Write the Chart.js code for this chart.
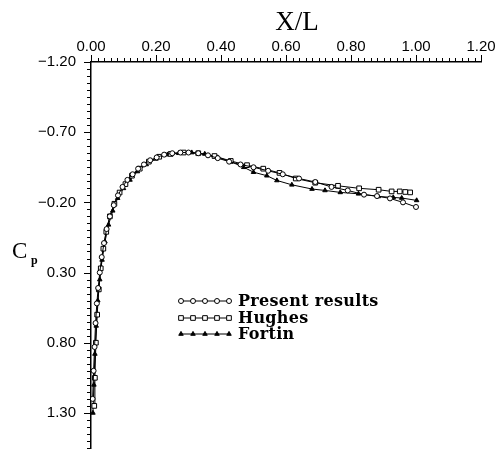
<!DOCTYPE html>
<html>
<head>
<meta charset="utf-8">
<script src="https://cdn.jsdelivr.net/npm/chart.js@4"></script>
<style>
  body { margin: 0; background: #fff; }
  canvas { display: block; }
</style>
</head>
<body>
<canvas id="myChart" width="502" height="456"></canvas>
<script>
// pressure coefficient along the chord
var seriesNames = ["Present results", "Hughes", "Fortin"];

var presentX = [0.005, 0.008, 0.011, 0.014, 0.018, 0.022, 0.027, 0.033, 0.040, 0.048,
    0.058, 0.070, 0.083, 0.097, 0.112, 0.128, 0.145, 0.163, 0.182, 0.202,
    0.225, 0.250, 0.275, 0.300, 0.330, 0.360, 0.390, 0.425, 0.460, 0.500,
    0.545, 0.590, 0.640, 0.690, 0.740, 0.790, 0.840, 0.880, 0.920, 0.960, 1.000];
var presentCp = [1.20, 1.00, 0.83, 0.66, 0.52, 0.41, 0.30, 0.19, 0.09, -0.01,
    -0.10, -0.18, -0.25, -0.31, -0.36, -0.40, -0.44, -0.47, -0.50, -0.52,
    -0.54, -0.55, -0.555, -0.555, -0.55, -0.535, -0.515, -0.49, -0.47, -0.45,
    -0.425, -0.40, -0.37, -0.345, -0.31, -0.285, -0.255, -0.245, -0.228, -0.20, -0.167];

var hughesX = [0.010, 0.012, 0.015, 0.019, 0.024, 0.030, 0.038, 0.047, 0.058, 0.072,
    0.088, 0.106, 0.126, 0.150, 0.178, 0.210, 0.245, 0.285, 0.330, 0.380,
    0.430, 0.480, 0.530, 0.580, 0.630, 0.690, 0.760, 0.825, 0.885, 0.925,
    0.950, 0.967, 0.982];
var hughesCp = [1.25, 1.05, 0.80, 0.60, 0.42, 0.27, 0.13, 0.01, -0.10, -0.19,
    -0.27, -0.33, -0.39, -0.44, -0.49, -0.525, -0.545, -0.555, -0.55, -0.53,
    -0.495, -0.465, -0.44, -0.41, -0.37, -0.34, -0.318, -0.30, -0.29, -0.278,
    -0.278, -0.274, -0.271];

var fortinX = [0.006, 0.009, 0.012, 0.016, 0.021, 0.027, 0.034, 0.043, 0.054, 0.067,
    0.082, 0.100, 0.120, 0.143, 0.170, 0.200, 0.235, 0.270, 0.310, 0.350,
    0.390, 0.430, 0.470, 0.500, 0.541, 0.572, 0.618, 0.680, 0.720, 0.767,
    0.823, 0.884, 0.930, 0.956, 1.002];
var fortinCp = [1.30, 1.10, 0.88, 0.68, 0.50, 0.35, 0.21, 0.08, -0.04, -0.14,
    -0.23, -0.30, -0.36, -0.42, -0.47, -0.51, -0.54, -0.55, -0.555, -0.545,
    -0.52, -0.49, -0.45, -0.415, -0.39, -0.356, -0.325, -0.295, -0.285, -0.271,
    -0.261, -0.242, -0.235, -0.231, -0.214];

// axis ranges and label spacing
var xRange = [0, 1.2];
var yRange = [-1.2, 1.55];
var xMinorStep = 0.02, xLabelStep = 0.2;
var yMinorStep = 0.05, yLabelStep = 0.5;

function pairs(xs, ys) {
    var out = [];
    for (var i = 0; i < xs.length; i++) out.push({ x: xs[i], y: ys[i] });
    return out;
}

function isMajor(v, origin, step) {
    var k = (v - origin) / step;
    return Math.abs(k - Math.round(k)) < 1e-6;
}

function fmt(v) {
    return (v < -1e-9 ? "\u2212" : "") + Math.abs(v).toFixed(2);
}

// outward tick marks, long at labelled values
var tickMarks = {
    id: "tickMarks",
    afterDraw: function (chart) {
        var ctx = chart.ctx;
        var xs = chart.scales.x, ys = chart.scales.y;
        var area = chart.chartArea;
        ctx.save();
        ctx.strokeStyle = "#000";
        ctx.lineWidth = 1;
        ctx.beginPath();
        xs.ticks.forEach(function (t) {
            var px = Math.round(xs.getPixelForValue(t.value)) + 0.5;
            var len = isMajor(t.value, xRange[0], xLabelStep) ? 7 : 4;
            ctx.moveTo(px, area.top);
            ctx.lineTo(px, area.top - len);
        });
        ys.ticks.forEach(function (t) {
            var py = Math.round(ys.getPixelForValue(t.value)) + 0.5;
            var len = isMajor(t.value, yRange[0], yLabelStep) ? 7 : 4;
            ctx.moveTo(area.left, py);
            ctx.lineTo(area.left - len, py);
        });
        ctx.stroke();
        ctx.restore();
    }
};

// axis titles and the in-plot key
var extras = {
    id: "extras",
    afterDraw: function (chart) {
        var ctx = chart.ctx;
        ctx.save();
        ctx.fillStyle = "#000";
        ctx.textAlign = "center";
        ctx.textBaseline = "alphabetic";
        ctx.font = '27px "Liberation Serif"';
        ctx.fillText("X/L", 297, 30);

        ctx.textAlign = "left";
        ctx.font = '23px "Liberation Serif"';
        ctx.fillText("C", 12, 258);
        ctx.font = 'bold 12px "Liberation Serif"';
        ctx.fillText("p", 31, 264);

        var rows = [301, 318, 334];
        chart.data.datasets.forEach(function (ds, i) {
            var y = rows[i];
            ctx.strokeStyle = "#000";
            ctx.lineWidth = 1;
            ctx.beginPath();
            ctx.moveTo(181, y);
            ctx.lineTo(229, y);
            ctx.stroke();
            for (var k = 0; k < 5; k++) {
                ctx.fillStyle = ds.pointBackgroundColor;
                ctx.strokeStyle = "#000";
                ctx.lineWidth = ds.pointBorderWidth;
                Chart.helpers.drawPoint(ctx, {
                    pointStyle: ds.pointStyle,
                    radius: ds.pointRadius,
                    borderWidth: ds.pointBorderWidth
                }, 181 + k * 12, y);
            }
            ctx.fillStyle = "#000";
            ctx.font = 'bold 16px "DejaVu Serif"';
            ctx.letterSpacing = "0.3px";
            ctx.fillText(ds.label, 238, y + 5);
            ctx.letterSpacing = "0px";
        });
        ctx.restore();
    }
};

var styles = [
    { pointStyle: "circle", radius: 2.5, fill: "#fff" },
    { pointStyle: "rect", radius: 3.3, fill: "#fff" },
    { pointStyle: "triangle", radius: 2.6, fill: "#000" }
];
var seriesData = [pairs(presentX, presentCp), pairs(hughesX, hughesCp), pairs(fortinX, fortinCp)];

var datasets = seriesNames.map(function (name, i) {
    return {
        label: name,
        data: seriesData[i],
        borderColor: "#000",
        borderWidth: 1,
        tension: 0,
        fill: false,
        pointStyle: styles[i].pointStyle,
        pointRadius: styles[i].radius,
        pointBorderWidth: 1,
        pointBorderColor: "#000",
        pointBackgroundColor: styles[i].fill
    };
});

var tickFont = { family: "Liberation Sans", size: 15 };

function noEdgePadding(s) {
    s.paddingTop = 0;
    s.paddingBottom = 0;
    s.paddingLeft = 0;
    s.paddingRight = 0;
}

new Chart("myChart", {
    type: "line",
    data: { datasets: datasets },
    options: {
        responsive: false,
        animation: false,
        layout: { padding: { left: 0, right: 21, top: 0, bottom: 8 } },
        plugins: {
            legend: { display: false },
            tooltip: { enabled: false }
        },
        scales: {
            x: {
                type: "linear",
                position: "top",
                min: xRange[0],
                max: xRange[1],
                grid: { display: false, drawTicks: false, tickLength: 0 },
                border: { display: true, color: "#000", width: 1.5 },
                ticks: {
                    stepSize: xMinorStep,
                    autoSkip: false,
                    maxRotation: 0,
                    padding: 6,
                    color: "#000",
                    font: tickFont,
                    callback: function (v) {
                        return isMajor(v, xRange[0], xLabelStep) ? fmt(v) : "";
                    }
                },
                afterFit: function (s) { s.height = 62; noEdgePadding(s); }
            },
            y: {
                type: "linear",
                reverse: true,
                min: yRange[0],
                max: yRange[1],
                grid: { display: false, drawTicks: false, tickLength: 0 },
                border: { display: true, color: "#000", width: 1.5 },
                ticks: {
                    stepSize: yMinorStep,
                    autoSkip: false,
                    padding: 15,
                    color: "#000",
                    font: tickFont,
                    callback: function (v) {
                        return isMajor(v, yRange[0], yLabelStep) ? fmt(v) : "";
                    }
                },
                afterFit: function (s) { s.width = 91; noEdgePadding(s); }
            }
        }
    },
    plugins: [tickMarks, extras]
});
</script>
</body>
</html>
